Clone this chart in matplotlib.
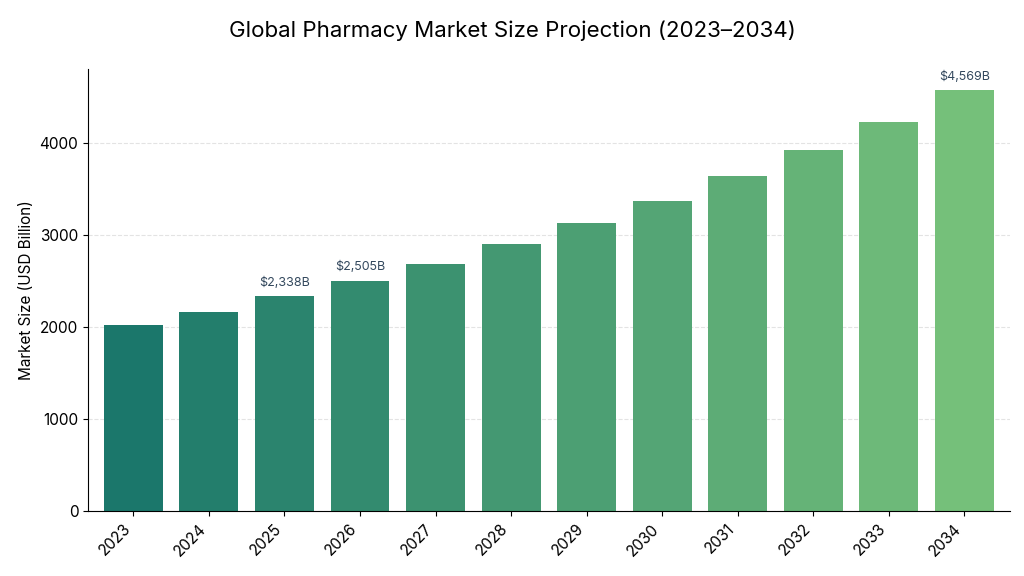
import matplotlib
matplotlib.use("Agg")
import matplotlib.pyplot as plt
import numpy as np
from matplotlib.colors import LinearSegmentedColormap

plt.rcParams["font.family"] = "Inter"

years = ["2023", "2024", "2025", "2026", "2027", "2028", "2029", "2030", "2031", "2032", "2033", "2034"]
values = [2027, 2168, 2338, 2505, 2688, 2905, 2133 + 1000, 3371, 3642, 3924, 4228, 4569]
labeled = {"2025": "$2,338B", "2026": "$2,505B", "2034": "$4,569B"}

fig = plt.figure(figsize=(10.24, 5.76), dpi=100)
ax = fig.add_axes([0.086, 0.112, 0.9, 0.768])
cmap = LinearSegmentedColormap.from_list("g", ["#1b776b", "#75c07a"])
colors = [cmap(i / (len(years) - 1)) for i in range(len(years))]
x = np.arange(len(years))
ax.bar(x, values, width=0.78, color=colors, zorder=2)
for xi, y, v in zip(x, years, values):
    if y in labeled:
        ax.text(xi, v + 80, labeled[y], ha="center", va="bottom", fontsize=9, color="#34495e")
ax.set_xticks(x)
ax.set_xticklabels(years, rotation=45, ha="right", fontsize=11)
ax.set_yticks([0, 1000, 2000, 3000, 4000])
ax.tick_params(axis="y", labelsize=11)
ax.set_xlim(-0.6, 11.6)
ax.set_ylim(0, 4800)
ax.grid(axis="y", linestyle="--", color="#e3e3e3", zorder=0)
ax.set_axisbelow(True)
for s in ["top", "right"]:
    ax.spines[s].set_visible(False)
ax.set_ylabel("Market Size (USD Billion)", fontsize=11)
fig.suptitle("Global Pharmacy Market Size Projection (2023\u20132034)", fontsize=16, y=0.965)
fig.savefig("out.png", dpi=100)
